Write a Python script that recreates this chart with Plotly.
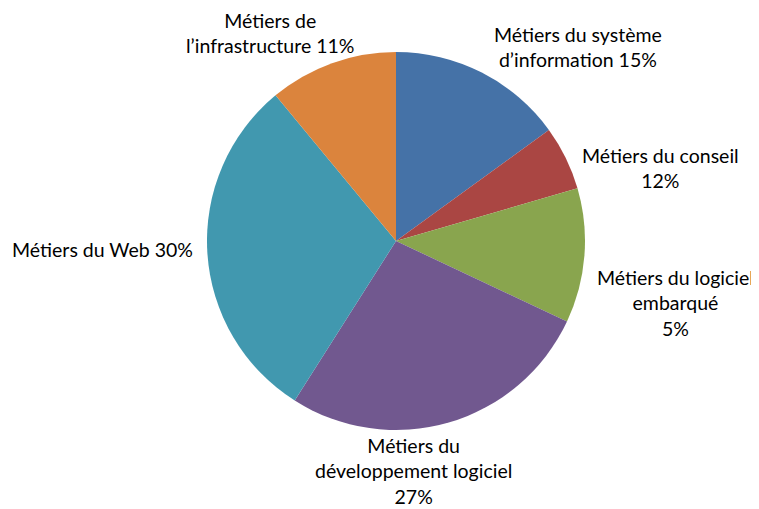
import plotly.graph_objects as go

categories = ["Métiers du système d’information", "Métiers du conseil",
              "Métiers du logiciel embarqué", "Métiers du développement logiciel",
              "Métiers du Web", "Métiers de l’infrastructure"]
values = [15, 5.5, 11.5, 27, 30, 11]
label_texts = ["Métiers du système<br>d’information 15%", "Métiers du conseil<br>12%",
               "Métiers du logiciel<br>embarqué<br>5%", "Métiers du<br>développement logiciel<br>27%",
               "Métiers du Web 30%", "Métiers de<br>l’infrastructure 11%"]
colors = ["#4572A7", "#AA4643", "#89A54E", "#71588F", "#4198AF", "#DB843D"]

W, H = 759, 509
OFF = 8  # page body margin offset
cx, cy, r = 396 - OFF, 241 - OFF, 189

fig = go.Figure(go.Pie(
    labels=categories, values=values, sort=False, direction="clockwise",
    rotation=0, marker=dict(colors=colors, line=dict(width=0)),
    textinfo="none", hoverinfo="label+percent",
    domain=dict(x=[(cx - r) / W, (cx + r) / W], y=[(H - cy - r) / H, (H - cy + r) / H]),
))

# label positions (pixel centres) kept separate from data
label_pos = [(578, 47), (660, 168), (675, 303), (413, 471), (102, 250), (270, 33)]
for txt, (px, py) in zip(label_texts, label_pos):
    fig.add_annotation(x=(px - OFF) / W, y=1 - (py - OFF) / H, xref="paper", yref="paper",
                       text=txt, showarrow=False, align="center",
                       xanchor="center", yanchor="middle",
                       font=dict(family="Lato, sans-serif", size=19.5, color="#000000"))

fig.update_layout(width=W, height=H, margin=dict(l=0, r=0, t=0, b=0),
                  showlegend=False, paper_bgcolor="white", plot_bgcolor="white")
fig.write_html("out.html")
